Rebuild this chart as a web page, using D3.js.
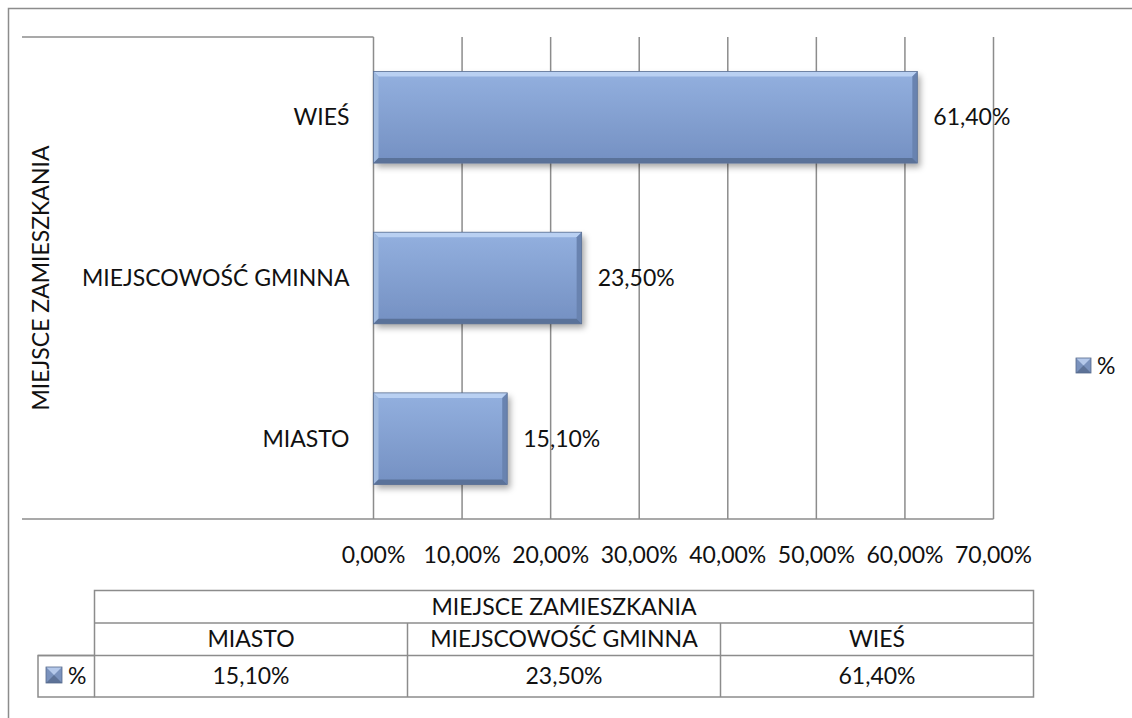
<!DOCTYPE html>
<html>
<head>
<meta charset="utf-8">
<script src="https://cdn.jsdelivr.net/npm/d3@7"></script>
<style>
  html, body { margin: 0; padding: 0; background: #fff; }
  svg text { font-family: Lato, "Noto Sans", sans-serif; fill: #111; }
</style>
</head>
<body>
<svg id="chart" width="1132" height="718"></svg>
<script>
// Bar chart with data table - miejsce zamieszkania
const categories = ["MIASTO", "MIEJSCOWOŚĆ GMINNA", "WIEŚ"];
const values = [15.1, 23.5, 61.4];
const ticks = [0, 10, 20, 30, 40, 50, 60, 70];
const seriesName = "%";
const axisTitle = "MIEJSCE ZAMIESZKANIA";

const fmt = v => v.toFixed(2).replace(".", ",") + "%";
const FS = 23, GRID = "#8c8c8c";
const data = categories.map((c, i) => ({ cat: c, value: values[i] }));

const svg = d3.select("#chart");
const defs = svg.append("defs");
const g1 = defs.append("linearGradient").attr("id", "barFill").attr("x1", 0).attr("x2", 0).attr("y1", 0).attr("y2", 1);
g1.append("stop").attr("offset", "0%").attr("stop-color", "#93b0df");
g1.append("stop").attr("offset", "100%").attr("stop-color", "#7490c2");
defs.append("filter").attr("id", "shadow").attr("x", "-5%").attr("y", "-10%").attr("width", "115%").attr("height", "130%")
  .append("feDropShadow").attr("dx", 3).attr("dy", 4).attr("stdDeviation", 3).attr("flood-color", "#000").attr("flood-opacity", 0.35);

// outer chart border (runs off picture at right and bottom)
svg.append("path").attr("d", "M8.5,718 L8.5,8.5 L1132,8.5").attr("fill", "none").attr("stroke", GRID).attr("stroke-width", 1.5);

const margin = { top: 37, left: 373.5, right: 993.5, bottom: 519 };
const x = d3.scaleLinear().domain([0, 70]).range([margin.left, margin.right]);
const y = d3.scaleBand().domain(categories.slice().reverse()).range([margin.top, margin.bottom]).paddingInner(0.43).paddingOuter(0.215);

// plot outline bits and gridlines
svg.append("line").attr("x1", 22).attr("x2", x(0)).attr("y1", margin.top).attr("y2", margin.top).attr("stroke", GRID).attr("stroke-width", 1.5);
svg.append("line").attr("x1", 22).attr("x2", x(70)).attr("y1", margin.bottom).attr("y2", margin.bottom).attr("stroke", GRID).attr("stroke-width", 1.5);
svg.selectAll(".grid").data(ticks).join("line").attr("class", "grid")
  .attr("x1", d => x(d)).attr("x2", d => x(d)).attr("y1", margin.top).attr("y2", margin.bottom)
  .attr("stroke", GRID).attr("stroke-width", 1.5);

// bevelled bars
function bevelBar(sel, x0, y0, w, h, b) {
  sel.append("rect").attr("x", x0).attr("y", y0).attr("width", w).attr("height", h).attr("fill", "url(#barFill)").attr("filter", "url(#shadow)");
  const x1 = x0 + w, y1 = y0 + h;
  sel.append("polygon").attr("points", `${x0},${y0} ${x1},${y0} ${x1 - b},${y0 + b} ${x0 + b},${y0 + b}`).attr("fill", "#b9d0f2");
  sel.append("polygon").attr("points", `${x0},${y0} ${x0 + b},${y0 + b} ${x0 + b},${y1 - b} ${x0},${y1}`).attr("fill", "#a0badf");
  sel.append("polygon").attr("points", `${x1},${y0} ${x1},${y1} ${x1 - b},${y1 - b} ${x1 - b},${y0 + b}`).attr("fill", "#6983b0");
  sel.append("polygon").attr("points", `${x0},${y1} ${x0 + b},${y1 - b} ${x1 - b},${y1 - b} ${x1},${y1}`).attr("fill", "#5a7299");
  sel.append("rect").attr("x", x0).attr("y", y0).attr("width", w).attr("height", h).attr("fill", "none").attr("stroke", "#5b6f92").attr("stroke-width", 0.8);
}
data.forEach(d => {
  const gb = svg.append("g");
  bevelBar(gb, x(0), y(d.cat), x(d.value) - x(0), y.bandwidth(), 5);
});

// category labels
svg.selectAll(".cat").data(data).join("text").attr("class", "cat")
  .attr("x", x(0) - 24).attr("y", d => y(d.cat) + y.bandwidth() / 2).attr("dy", "0.35em")
  .attr("text-anchor", "end").attr("font-size", FS).text(d => d.cat);
// data labels
svg.selectAll(".lbl").data(data).join("text").attr("class", "lbl")
  .attr("x", d => x(d.value) + 16).attr("y", d => y(d.cat) + y.bandwidth() / 2).attr("dy", "0.35em")
  .attr("font-size", FS).text(d => fmt(d.value));
// tick labels
svg.selectAll(".tick").data(ticks).join("text").attr("class", "tick")
  .attr("x", d => x(d)).attr("y", 555).attr("dy", "0.35em").attr("text-anchor", "middle")
  .attr("font-size", FS).text(d => fmt(d));
// axis title
svg.append("text").attr("transform", `translate(41,${(margin.top + margin.bottom) / 2}) rotate(-90)`)
  .attr("dy", "0.35em").attr("text-anchor", "middle").attr("font-size", FS).text(axisTitle);

// legend key
function legendKey(sel, kx, ky, s) {
  sel.append("rect").attr("x", kx).attr("y", ky).attr("width", s).attr("height", s).attr("fill", "#7a92bd");
  sel.append("polygon").attr("points", `${kx},${ky} ${kx + s},${ky} ${kx + s / 2},${ky + s / 2}`).attr("fill", "#b4c8ea");
  sel.append("polygon").attr("points", `${kx},${ky + s} ${kx + s},${ky + s} ${kx + s / 2},${ky + s / 2}`).attr("fill", "#5d7297");
  sel.append("rect").attr("x", kx).attr("y", ky).attr("width", s).attr("height", s).attr("fill", "none").attr("stroke", "#56698c").attr("stroke-width", 0.8);
}
legendKey(svg.append("g"), 1076, 358, 15);
svg.append("text").attr("x", 1097).attr("y", 366).attr("dy", "0.35em").attr("font-size", FS).text(seriesName);

// data table
const tx = d3.scaleBand().domain(categories).range([94.5, 1033.5]);
const rows = [590.5, 623, 655.5, 697];
const tg = svg.append("g").attr("stroke", GRID).attr("stroke-width", 1.5).attr("fill", "none");
tg.append("rect").attr("x", tx.range()[0]).attr("y", rows[0]).attr("width", tx.range()[1] - tx.range()[0]).attr("height", rows[3] - rows[0]);
tg.append("line").attr("x1", tx.range()[0]).attr("x2", tx.range()[1]).attr("y1", rows[1]).attr("y2", rows[1]);
tg.append("line").attr("x1", 38).attr("x2", tx.range()[1]).attr("y1", rows[2]).attr("y2", rows[2]);
tg.append("path").attr("d", `M${tx.range()[0]},${rows[2]} H38 V${rows[3]} H${tx.range()[0]}`);
tg.selectAll(".col").data(categories.slice(1)).join("line").attr("x1", d => tx(d)).attr("x2", d => tx(d)).attr("y1", rows[1]).attr("y2", rows[3]);

svg.append("text").attr("x", (tx.range()[0] + tx.range()[1]) / 2).attr("y", (rows[0] + rows[1]) / 2).attr("dy", "0.35em")
  .attr("text-anchor", "middle").attr("font-size", FS).text(axisTitle);
svg.selectAll(".tcat").data(data).join("text").attr("class", "tcat")
  .attr("x", d => tx(d.cat) + tx.bandwidth() / 2).attr("y", (rows[1] + rows[2]) / 2).attr("dy", "0.35em")
  .attr("text-anchor", "middle").attr("font-size", FS).text(d => d.cat);
svg.selectAll(".tval").data(data).join("text").attr("class", "tval")
  .attr("x", d => tx(d.cat) + tx.bandwidth() / 2).attr("y", (rows[2] + rows[3]) / 2).attr("dy", "0.35em")
  .attr("text-anchor", "middle").attr("font-size", FS).text(d => fmt(d.value));
legendKey(svg.append("g"), 46, 667, 16);
svg.append("text").attr("x", 68).attr("y", (rows[2] + rows[3]) / 2).attr("dy", "0.35em").attr("font-size", FS).text(seriesName);
</script>
</body>
</html>
